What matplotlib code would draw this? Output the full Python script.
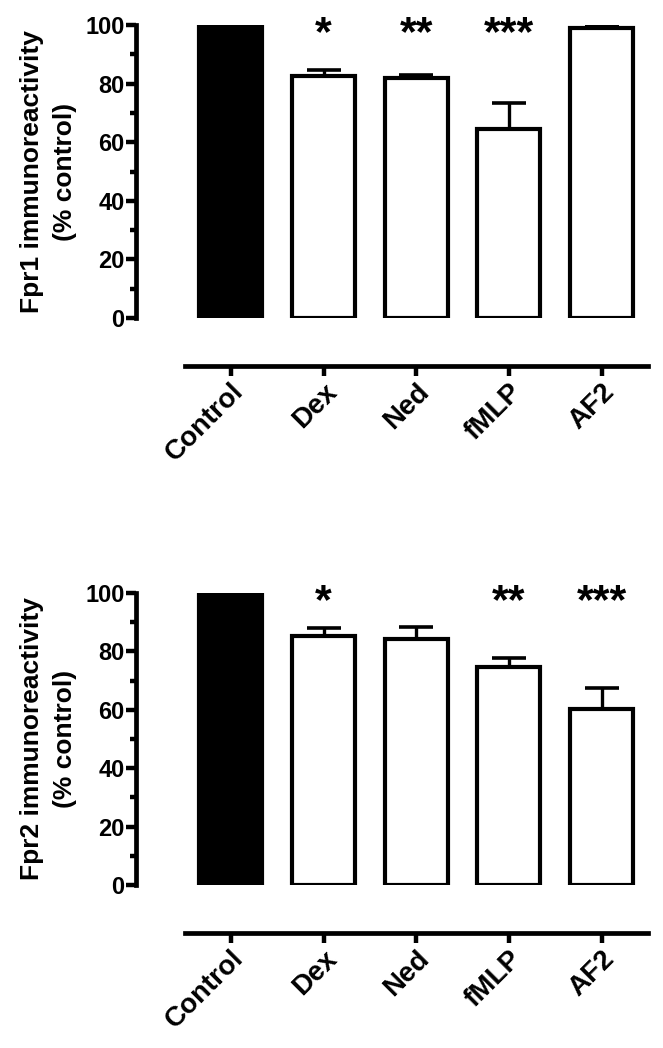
import matplotlib
matplotlib.use("Agg")
import matplotlib.pyplot as plt
from matplotlib.ticker import MultipleLocator

plt.rcParams['font.family'] = ['Liberation Sans', 'DejaVu Sans']
plt.rcParams['font.weight'] = 'bold'

categories = ["Control", "Dex", "Ned", "fMLP", "AF2"]
fpr1_values = [100, 82.6, 82.0, 64.4, 99.1]
fpr1_errors = [0, 2.1, 1.1, 9.0, 0.8]
fpr1_stars = ["", "*", "**", "***", ""]
fpr2_values = [100, 85.4, 84.1, 74.6, 60.3]
fpr2_errors = [0, 2.6, 4.3, 3.0, 7.3]
fpr2_stars = ["", "*", "", "**", "***"]
fills = ["black", "white", "white", "white", "white"]

W, H = 663, 1048
fig = plt.figure(figsize=(W / 100, H / 100), dpi=100)


def panel(top_px, bottom_px, values, errors, stars, ylabel):
    left_px, right_px = 135.5, 648
    ax = fig.add_axes([left_px / W, 1 - bottom_px / H,
                       (right_px - left_px) / W, (bottom_px - top_px) / H])
    x = list(range(len(categories)))
    ax.bar(x, values, width=0.68, color=fills, edgecolor="black",
           linewidth=3.0, zorder=3)
    ax.errorbar(x[1:], values[1:], yerr=[[0] * (len(x) - 1), errors[1:]],
                fmt="none", ecolor="black", elinewidth=2.4, capsize=12,
                capthick=2.6, zorder=2)
    for xi, s in zip(x, stars):
        if s:
            ax.text(xi, 96.8, s, ha="center", va="center", fontsize=31,
                    fontweight="bold", clip_on=False)
    ax.set_xlim(-1.03, 4.5)
    ax.set_ylim(0, 100)
    for s in ["top", "right"]:
        ax.spines[s].set_visible(False)
    ax.spines["left"].set_linewidth(3.4)
    ax.spines["left"].set_bounds(0, 100)
    ax.spines["left"].set_capstyle("projecting")
    ax.spines["bottom"].set_linewidth(3.4)
    ax.spines["bottom"].set_position(("outward", 34.5))
    ax.spines["bottom"].set_bounds(-0.5, 4.5)
    ax.yaxis.set_major_locator(MultipleLocator(20))
    ax.yaxis.set_minor_locator(MultipleLocator(10))
    ax.tick_params(axis="y", which="major", length=7, width=3.2,
                   labelsize=17, pad=1)
    ax.tick_params(axis="y", which="minor", length=4, width=3.2)
    ax.tick_params(axis="x", which="major", length=7, width=3.2,
                   labelsize=20, pad=2)
    ax.set_xticks(x)
    ax.set_xticklabels(categories, rotation=45, ha="right",
                       rotation_mode="anchor", fontweight="bold")
    for lab in ax.get_yticklabels():
        lab.set_fontweight("bold")
    ax.set_ylabel(ylabel, fontsize=19, fontweight="bold", labelpad=6,
                  linespacing=1.45)
    return ax


panel(25, 318, fpr1_values, fpr1_errors, fpr1_stars,
      "Fpr1 immunoreactivity\n(% control)")
panel(593, 885, fpr2_values, fpr2_errors, fpr2_stars,
      "Fpr2 immunoreactivity\n(% control)")

fig.savefig("out.png", dpi=100, facecolor="white")
